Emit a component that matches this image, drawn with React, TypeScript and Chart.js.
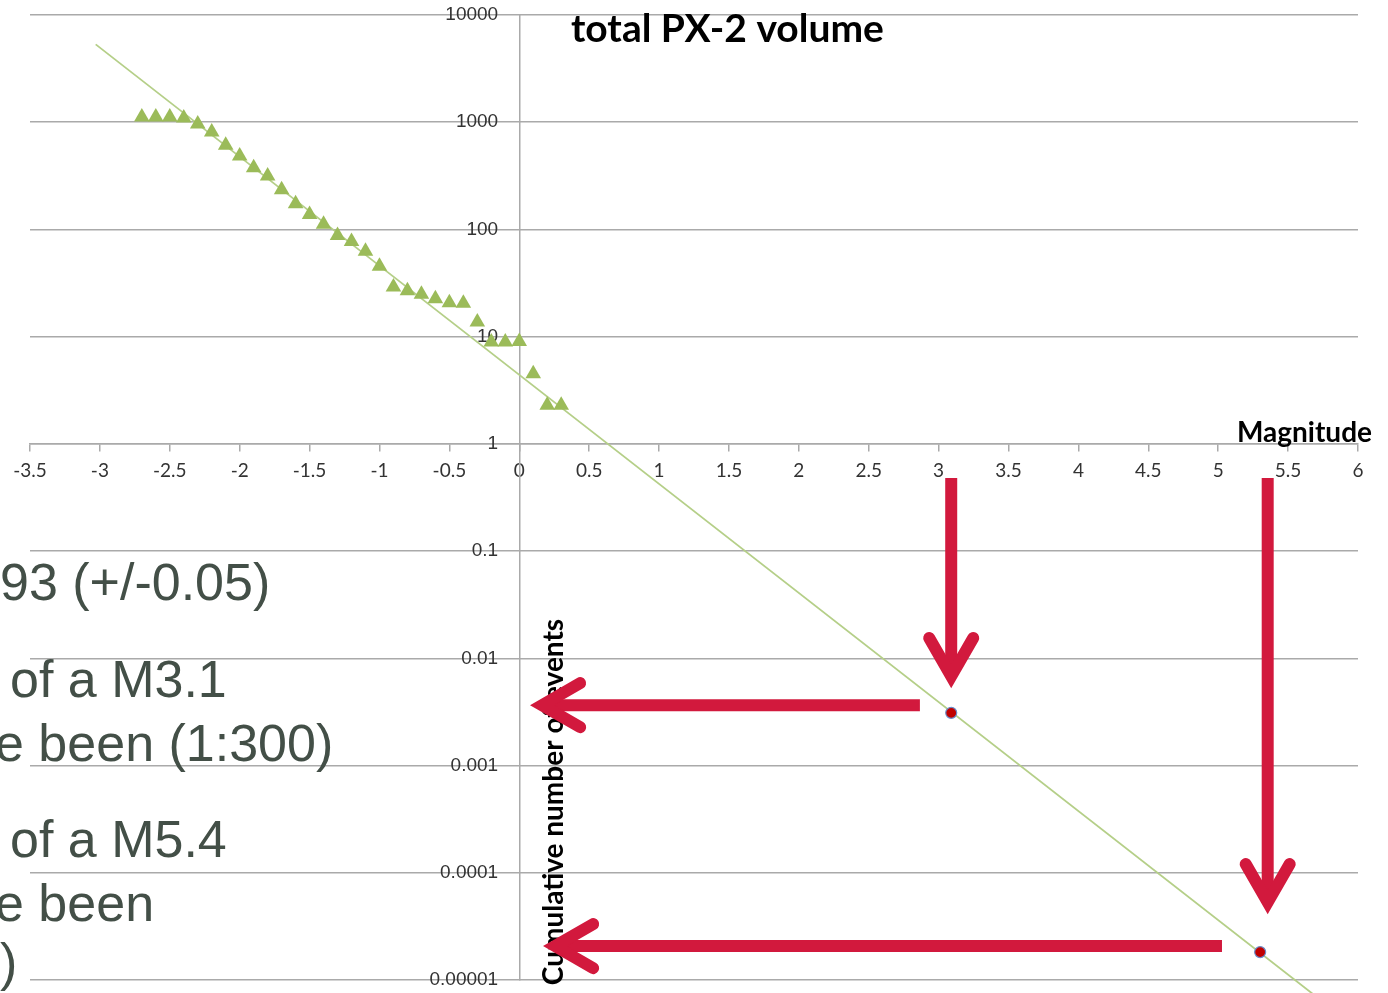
import React, { useEffect, useRef } from 'react';
import { Chart, registerables } from 'chart.js';

Chart.register(...registerables);

// ---- Data ----
const magnitudes = [
  -2.7, -2.6, -2.5, -2.4, -2.3, -2.2, -2.1, -2.0, -1.9, -1.8, -1.7, -1.6, -1.5, -1.4, -1.3, -1.2,
  -1.1, -1.0, -0.9, -0.8, -0.7, -0.6, -0.5, -0.4, -0.3, -0.2, -0.1, 0.0, 0.1, 0.2, 0.3,
];
const cumulativeCounts = [
  1118, 1118, 1118, 1094, 962, 810, 609, 484, 377, 315, 235, 174, 138, 112, 88, 77,
  62.5, 45.3, 29, 26.8, 24.9, 22.6, 20.7, 20.5, 13.7, 8.9, 8.9, 9.0, 4.5, 2.29, 2.29,
];
const fitLineM = [-3.03, 5.72];
const fitLineN = [5325, 0.0000067];
const predictedM = [3.09, 5.3];
const predictedN = [0.0031, 0.0000182];

const xMin = -3.5;
const xMax = 6;
const xStep = 0.5;
const yTickValues = [10000, 1000, 100, 10, 1, 0.1, 0.01, 0.001, 0.0001, 0.00001];
const yTickLabels = ['10000', '1000', '100', '10', '1', '0.1', '0.01', '0.001', '0.0001', '0.00001'];

const chartTitle = 'total PX-2 volume';
const xTitle = 'Magnitude';
const yTitle = 'Cumulative number of events';

// Arrow annotations, anchored in data coordinates (magnitude, count)
const arrowFromM = [3.09, 2.866, 5.354, 5.027];
const arrowFromN = [0.48, 0.00366, 0.48, 0.0000207];
const arrowToM = [3.09, 0.077, 5.354, 0.17];
const arrowToN = [0.00527, 0.00366, 0.0000411, 0.0000207];

// Cut-off slide text at the left
const sideTexts = ['93 (+/-0.05)', 'of a M3.1', 'e been (1:300)', 'of a M5.4', 'e been', ')'];
const sideTextX = [0, 10, -5, 10, -5, 0];
const sideTextY = [600, 697, 761, 857, 921, 980];

const ARROW_COLOR = '#d2193d';

function drawArrow(ctx: CanvasRenderingContext2D, x0: number, y0: number, tx: number, ty: number) {
  const w = 12;
  const dx = tx - x0;
  const dy = ty - y0;
  const len = Math.hypot(dx, dy);
  const ux = dx / len;
  const uy = dy / len;
  const px = -uy;
  const py = ux;
  const theta = (30 * Math.PI) / 180;
  const back = w / 2 / Math.sin(theta);
  const vx = tx - ux * back;
  const vy = ty - uy * back;
  const L = 44;
  const along = L * Math.cos(theta);
  const perp = L * Math.sin(theta);
  ctx.save();
  ctx.strokeStyle = ARROW_COLOR;
  ctx.lineWidth = w;
  ctx.lineCap = 'butt';
  ctx.beginPath();
  ctx.moveTo(x0, y0);
  ctx.lineTo(vx - ux * 2, vy - uy * 2);
  ctx.stroke();
  ctx.lineCap = 'round';
  ctx.lineJoin = 'miter';
  ctx.miterLimit = 10;
  ctx.beginPath();
  ctx.moveTo(vx - ux * along + px * perp, vy - uy * along + py * perp);
  ctx.lineTo(vx, vy);
  ctx.lineTo(vx - ux * along - px * perp, vy - uy * along - py * perp);
  ctx.stroke();
  ctx.restore();
}

const overlayPlugin = {
  id: 'overlay',
  afterDraw(chart: any) {
    const ctx: CanvasRenderingContext2D = chart.ctx;
    const xs = chart.scales.x;
    const ys = chart.scales.y;
    ctx.save();
    // side texts
    ctx.fillStyle = '#434f47';
    ctx.font = '52px "Liberation Sans", Arial, sans-serif';
    ctx.textAlign = 'left';
    ctx.textBaseline = 'alphabetic';
    sideTexts.forEach((t, i) => ctx.fillText(t, sideTextX[i], sideTextY[i]));
    // chart title
    ctx.fillStyle = '#000';
    ctx.font = 'bold 39px Lato, "Open Sans", sans-serif';
    ctx.fillText(chartTitle, 571, 42);
    // x title
    ctx.font = 'bold 28px Lato, "Open Sans", sans-serif';
    ctx.textAlign = 'right';
    ctx.fillText(xTitle, 1372, 442);
    // y title
    ctx.save();
    ctx.translate(563, 802);
    ctx.rotate(-Math.PI / 2);
    ctx.textAlign = 'center';
    ctx.fillText(yTitle, 0, 0);
    ctx.restore();
    // arrows
    for (let i = 0; i < arrowFromM.length; i++) {
      drawArrow(
        ctx,
        xs.getPixelForValue(arrowFromM[i]),
        ys.getPixelForValue(arrowFromN[i]),
        xs.getPixelForValue(arrowToM[i]),
        ys.getPixelForValue(arrowToN[i])
      );
    }
    ctx.restore();
  },
};

export default function App() {
  const canvasRef = useRef<HTMLCanvasElement | null>(null);

  useEffect(() => {
    if (!canvasRef.current) return;
    const chart = new Chart(canvasRef.current, {
      type: 'scatter',
      data: {
        datasets: [
          {
            type: 'line',
            data: fitLineM.map((m, i) => ({ x: m, y: fitLineN[i] })),
            borderColor: '#b5cf88',
            borderWidth: 1.8,
            pointRadius: 0,
            clip: false,
            order: 3,
          } as any,
          {
            data: magnitudes.map((m, i) => ({ x: m, y: cumulativeCounts[i] })),
            pointStyle: 'triangle',
            pointRadius: 9,
            backgroundColor: '#9bbb59',
            borderColor: '#9bbb59',
            borderWidth: 0,
            order: 2,
          },
          {
            data: predictedM.map((m, i) => ({ x: m, y: predictedN[i] })),
            pointStyle: 'circle',
            pointRadius: 5.5,
            backgroundColor: '#c00000',
            borderColor: '#6a8cc8',
            borderWidth: 1.2,
            order: 1,
          },
        ],
      },
      options: {
        responsive: false,
        maintainAspectRatio: false,
        animation: false,
        layout: { padding: { left: 30, right: 30, top: 15, bottom: 13 } },
        plugins: {
          legend: { display: false },
          tooltip: { enabled: false },
          title: { display: false },
        },
        scales: {
          x: {
            type: 'linear',
            position: { y: 1 } as any,
            min: xMin,
            max: xMax,
            afterFit: (s: any) => {
              s.paddingTop = 0;
              s.paddingBottom = 0;
            },
            ticks: {
              stepSize: xStep,
              autoSkip: false,
              maxRotation: 0,
              padding: 9,
              color: '#333',
              font: { family: 'Lato, "Open Sans", sans-serif', size: 19 },
              callback: (v: any) => String(v),
            },
            grid: { drawOnChartArea: false, drawTicks: true, tickLength: 7, color: '#aaaaaa', lineWidth: 1.5 },
            border: { display: true, color: '#aaaaaa', width: 1.5 },
          },
          y: {
            type: 'logarithmic',
            position: { x: 0 } as any,
            min: 0.00001,
            max: 10000,
            afterBuildTicks: (scale: any) => {
              scale.ticks = yTickValues.map((v) => ({ value: v }));
            },
            afterFit: (s: any) => {
              s.paddingTop = 0;
              s.paddingBottom = 0;
            },
            ticks: {
              autoSkip: false,
              padding: 0,
              color: '#333',
              font: { family: '"Liberation Sans", Arial, sans-serif', size: 19 },
              callback: (v: any) => {
                const i = yTickValues.indexOf(Number(v));
                // trailing spaces keep the right-aligned label clear of the axis line
                return i >= 0 ? yTickLabels[i] + '    ' : '';
              },
            },
            grid: { drawTicks: false, color: '#aaaaaa', lineWidth: 1.5 },
            border: { display: true, color: '#aaaaaa', width: 1.5 },
          },
        },
      },
      plugins: [overlayPlugin],
    });
    return () => chart.destroy();
  }, []);

  return (
    <div style={{ position: 'absolute', left: 0, top: 0, width: 1388, height: 993, background: '#fff' }}>
      <canvas ref={canvasRef} width={1388} height={993} style={{ display: 'block' }} />
    </div>
  );
}
